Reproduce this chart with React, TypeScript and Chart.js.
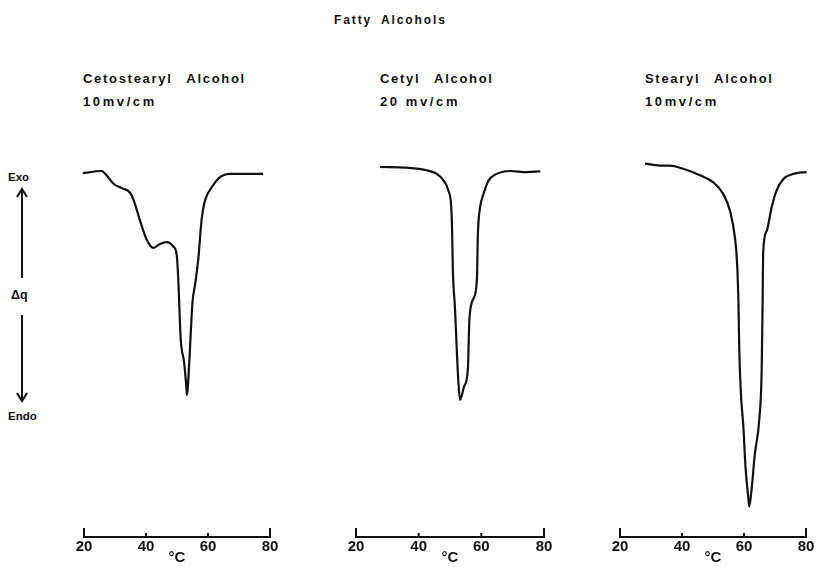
import React, { useEffect, useRef } from "react";
import { Chart, registerables } from "chart.js";

Chart.register(...registerables);

// ---------- data ----------
const chartTitle = "Fatty Alcohols";
const xTicks = [20, 40, 60, 80];
const xUnit = "°C";
const panelNames = ["Cetostearyl Alcohol", "Cetyl Alcohol", "Stearyl Alcohol"];
const panelSens = ["10mv/cm", "20 mv/cm", "10mv/cm"];

// Cetostearyl alcohol (temperature °C, Δq arbitrary units)
const cetostearylT = [19.6, 25.7, 27.3, 29.5, 32.2, 34.8, 36.1, 38.1, 40.2, 42.4, 44.5, 46.7, 48.8, 49.9, 50.4, 50.7, 51.2, 52.3, 53.0, 53.2, 54.0, 55.0, 55.8, 56.9, 57.9, 59.0, 61.2, 63.9, 67.1, 77.8];
const cetostearylQ = [-0.2, 0.4, -0.8, -3.1, -4.3, -5.5, -7.8, -13.3, -18.4, -20.7, -19.6, -19.1, -20.3, -22.6, -29.1, -35.6, -45.7, -52.2, -58.7, -61.0, -51.3, -35.6, -30.9, -23.5, -13.3, -7.8, -4.1, -1.3, -0.4, -0.4];

// Cetyl alcohol
const cetylT = [27.7, 36.2, 42.6, 45.8, 47.9, 49.5, 50.4, 50.7, 50.9, 51.6, 52.2, 52.7, 53.2, 54.5, 55.7, 56.2, 57.5, 58.6, 58.9, 59.6, 60.7, 62.3, 64.4, 69.2, 74.5, 78.8];
const cetylQ = [1.5, 1.3, 0.6, -0.4, -2.2, -5.0, -9.6, -17.0, -26.3, -37.4, -49.4, -57.8, -62.4, -58.7, -54.1, -40.2, -34.6, -29.1, -17.0, -9.6, -5.9, -2.2, -0.6, 0.4, 0.1, 0.3];

// Stearyl alcohol
const stearylT = [28.1, 32.9, 36.1, 40.4, 45.8, 50.1, 53.3, 55.5, 57.1, 57.8, 58.2, 58.5, 59.0, 59.8, 60.5, 61.4, 61.7, 62.5, 63.5, 64.9, 65.7, 66.0, 66.2, 67.3, 68.9, 70.5, 72.7, 75.9, 80.2, 83.5];
const stearylQ = [2.4, 1.9, 1.9, 1.0, -0.8, -2.7, -5.9, -10.6, -18.0, -25.4, -35.6, -49.4, -60.6, -69.8, -81.0, -89.3, -91.6, -86.5, -77.2, -68.0, -54.1, -35.6, -21.7, -16.1, -9.6, -5.0, -1.8, -0.4, 0.1, -0.2];

const yMin = -100;
const yMax = 10;

const FONT = "'Liberation Sans', Arial, Helvetica, sans-serif";

const upTicksPlugin = {
  id: "upTicks",
  afterDraw(chart: any) {
    const s = chart.scales.x;
    const ctx = chart.ctx;
    ctx.save();
    ctx.strokeStyle = "#111";
    ctx.lineWidth = 2;
    xTicks.forEach((v, i) => {
      const px = s.getPixelForValue(v);
      const len = i === 0 || i === xTicks.length - 1 ? 9 : 4;
      ctx.beginPath();
      ctx.moveTo(px, s.top);
      ctx.lineTo(px, s.top - len);
      ctx.stroke();
    });
    ctx.restore();
  },
};

type PanelProps = {
  xs: number[];
  ys: number[];
  left: number;
  width: number;
  padL: number;
  padR: number;
};

const CANVAS_TOP = 130;
const CANVAS_H = 435;

function Panel({ xs, ys, left, width, padL, padR }: PanelProps) {
  const ref = useRef<HTMLCanvasElement | null>(null);
  useEffect(() => {
    if (!ref.current) return;
    const chart = new Chart(ref.current, {
      type: "line",
      data: {
        datasets: [
          {
            data: xs.map((x, i) => ({ x, y: ys[i] })),
            borderColor: "#111",
            borderWidth: 2.2,
            pointRadius: 0,
            cubicInterpolationMode: "monotone",
            clip: false,
            fill: false,
          } as any,
        ],
      },
      options: {
        responsive: false,
        animation: false,
        devicePixelRatio: 1,
        layout: { padding: { left: padL, right: padR, top: 6, bottom: 0 } },
        plugins: { legend: { display: false }, tooltip: { enabled: false }, title: { display: false } },
        scales: {
          x: {
            type: "linear",
            min: 20,
            max: 80,
            afterBuildTicks: (axis: any) => {
              axis.ticks = xTicks.map((v) => ({ value: v }));
            },
            ticks: {
              color: "#111",
              padding: 1,
              maxRotation: 0,
              autoSkip: false,
              font: { family: FONT, size: 15, weight: "bold" },
            },
            grid: { display: false, drawTicks: false },
            border: { display: true, color: "#111", width: 2 },
            title: {
              display: true,
              text: xUnit,
              color: "#111",
              font: { family: FONT, size: 15, weight: "bold", lineHeight: 1 },
              padding: { top: -7, bottom: 0 },
            },
          },
          y: { type: "linear", min: yMin, max: yMax, display: false },
        },
      },
      plugins: [upTicksPlugin],
    });
    return () => chart.destroy();
  }, []);
  return (
    <canvas
      ref={ref}
      width={width}
      height={CANVAS_H}
      style={{ position: "absolute", left, top: CANVAS_TOP, width, height: CANVAS_H }}
    />
  );
}

const txt: React.CSSProperties = {
  position: "absolute",
  fontFamily: FONT,
  fontWeight: "bold",
  color: "#111",
  whiteSpace: "pre",
  margin: 0,
  lineHeight: 1,
};

export default function App() {
  const panels = [
    { xs: cetostearylT, ys: cetostearylQ, left: 54, width: 246, padL: 30, padR: 30, tx: 83 },
    { xs: cetylT, ys: cetylQ, left: 326, width: 248, padL: 30, padR: 30, tx: 380 },
    { xs: stearylT, ys: stearylQ, left: 590, width: 229, padL: 30, padR: 13, tx: 645 },
  ];
  return (
    <div style={{ position: "absolute", left: 0, top: 0, width: 819, height: 567, overflow: "hidden", background: "#fff" }}>
      <div style={{ ...txt, left: 334, top: 14, fontSize: 12, letterSpacing: 1.9, wordSpacing: 4 }}>{chartTitle}</div>
      {panels.map((p, i) => (
        <React.Fragment key={i}>
          <div style={{ ...txt, left: p.tx, top: 72, fontSize: 13, letterSpacing: 1.7, wordSpacing: 9 }}>{panelNames[i]}</div>
          <div style={{ ...txt, left: p.tx, top: 95, fontSize: 13, letterSpacing: 2.6 }}>{panelSens[i]}</div>
          <Panel xs={p.xs} ys={p.ys} left={p.left} width={p.width} padL={p.padL} padR={p.padR} />
        </React.Fragment>
      ))}
      <div style={{ ...txt, left: 8, top: 172, fontSize: 11.5 }}>Exo</div>
      <div style={{ ...txt, left: 11, top: 289, fontSize: 12.5 }}>Δq</div>
      <div style={{ ...txt, left: 8, top: 411, fontSize: 11.5 }}>Endo</div>
      <svg width={40} height={240} style={{ position: "absolute", left: 2, top: 180 }}>
        <g stroke="#111" strokeWidth={2} fill="none">
          <line x1={20} y1={98} x2={20} y2={10} />
          <polyline points="15,17 20,9 25,17" />
          <line x1={20} y1={135} x2={20} y2={220} />
          <polyline points="15,213 20,221 25,213" />
        </g>
      </svg>
    </div>
  );
}
